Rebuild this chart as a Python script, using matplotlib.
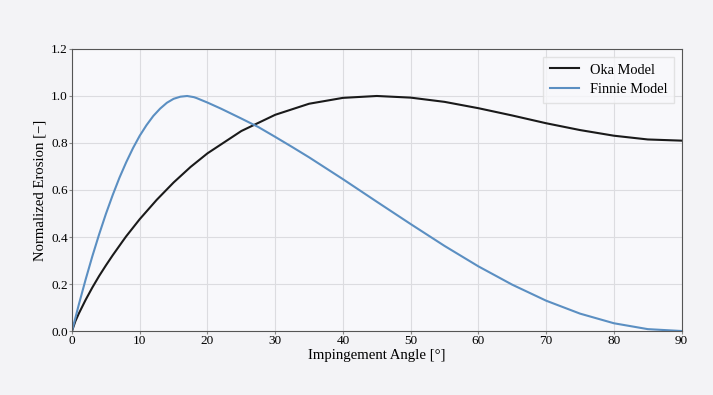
import matplotlib.pyplot as plt

plt.rcParams['font.family'] = ['Liberation Serif', 'DejaVu Serif']

# valores (angulo en grados, erosion normalizada)
oka_angle = [0, 0.5, 1, 2, 3, 4, 5, 6, 7.5, 8, 10, 12.5, 15, 17.5, 20, 25, 30, 35,
             40, 45, 50, 55, 60, 65, 70, 75, 80, 85, 90]
oka_erosion = [0.0, 0.042, 0.074, 0.132, 0.185, 0.234, 0.279, 0.322, 0.383, 0.403,
               0.476, 0.558, 0.632, 0.698, 0.756, 0.851, 0.920, 0.967, 0.992, 1.0,
               0.993, 0.975, 0.948, 0.917, 0.884, 0.855, 0.831, 0.815, 0.81]

finnie_angle = [0, 1, 2, 3, 4, 5, 6, 7, 8, 9, 10, 11, 12, 13, 14, 15, 16, 17, 18,
                18.4, 20, 22, 25, 27.5, 30, 32.5, 35, 40, 45, 50, 55, 60, 65, 70,
                75, 80, 85, 90]
finnie_erosion = [0.0, 0.112, 0.218, 0.318, 0.411, 0.498, 0.578, 0.652, 0.718,
                  0.778, 0.831, 0.876, 0.915, 0.946, 0.971, 0.988, 0.997, 1.0,
                  0.995, 0.991, 0.972, 0.946, 0.904, 0.868, 0.826, 0.783, 0.739,
                  0.646, 0.550, 0.455, 0.362, 0.275, 0.197, 0.129, 0.074, 0.033,
                  0.008, 0.0]

fig = plt.figure(figsize=(7.13, 3.95), dpi=100, facecolor='#f3f3f6')
ax = fig.add_axes([0.101, 0.162, 0.855, 0.714])
ax.set_facecolor('#f8f8fb')

ax.plot(oka_angle, oka_erosion, color='#1a1a1a', lw=1.5, label='Oka Model')
ax.plot(finnie_angle, finnie_erosion, color='#5b8fc2', lw=1.5, label='Finnie Model')

ax.set_xlim(0, 90)
ax.set_ylim(0, 1.2)
ax.set_xticks(range(0, 91, 10))
ax.set_yticks([0.0, 0.2, 0.4, 0.6, 0.8, 1.0, 1.2])
ax.set_yticklabels(['0.0', '0.2', '0.4', '0.6', '0.8', '1.0', '1.2'])
ax.tick_params(labelsize=9.5, length=2, color='#888888', pad=1)
ax.grid(color='#dcdce0', lw=0.8)
for s in ax.spines.values():
    s.set_color('#555555')
    s.set_linewidth(0.8)

ax.set_xlabel('Impingement Angle [°]', fontsize=10.6, labelpad=1)
ax.set_ylabel('Normalized Erosion [−]', fontsize=10.6, labelpad=3)

leg = ax.legend(loc='upper right', fontsize=10.4, frameon=True, fancybox=False,
                handlelength=2.0, handletextpad=0.75, borderpad=0.45,
                labelspacing=0.45, borderaxespad=0.55)
leg.get_frame().set_edgecolor('#dddddd')
leg.get_frame().set_facecolor('#f8f8fb')

plt.savefig('out.png', dpi=100, facecolor=fig.get_facecolor())
